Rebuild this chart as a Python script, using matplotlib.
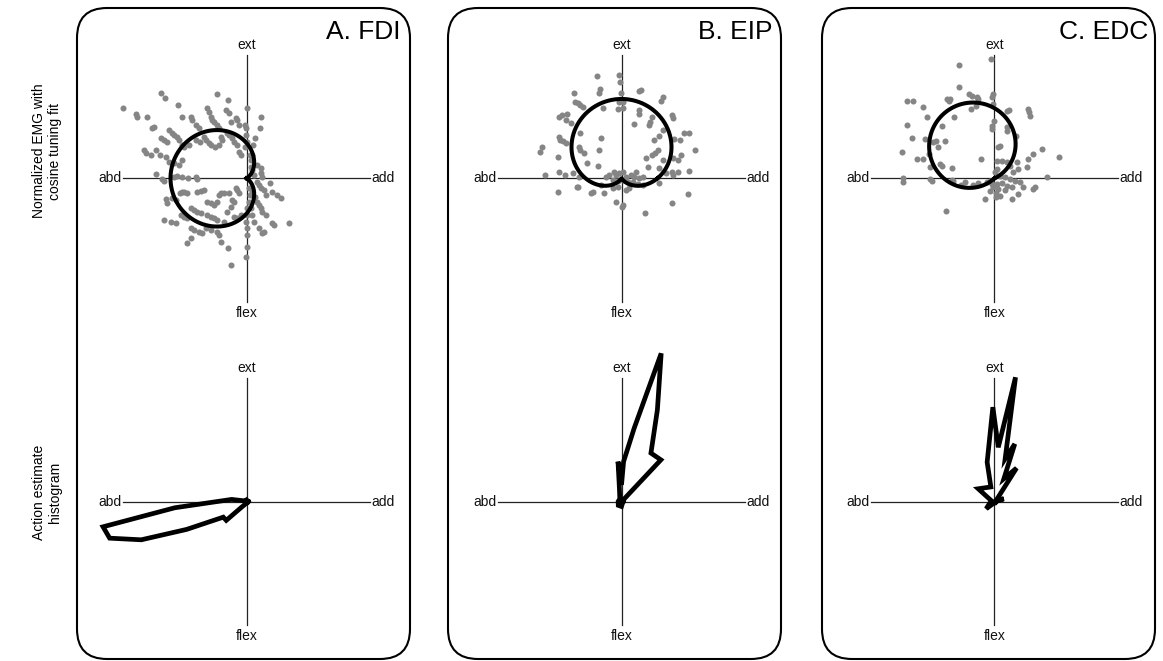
import numpy as np
import matplotlib.pyplot as plt
from matplotlib.patches import FancyBboxPatch

plt.rcParams['font.family'] = ['Liberation Sans', 'DejaVu Sans']

# normalized EMG per trial; x: add(+)/abd(-), y: ext(+)/flex(-)
fdi_x = [-2.58, -2.46, -3.71, -3.33, -3.28, -3.00, -2.05, -1.93, -0.90, -0.56, -1.18, -1.13, -1.08,
         -1.03, -0.98, -0.90, -0.83, -1.68, -1.63, -1.53, -1.43, -2.78, -2.83, -2.33, -2.23, -2.18,
         -2.08, -2.03, -1.93, -1.88, -1.73, -2.58, -2.48, -2.38, -3.08, -3.03, -2.88, -2.73, -2.60,
         -2.43, -2.33, -2.18, -2.03, -1.93, -0.63, -0.53, -0.33, -0.28, -0.23, -0.46, -0.58, -0.53,
         -0.43, -0.38, -0.28, -0.23, -0.18, 0.00, -0.04, -0.03, -0.03, 0.02, -0.06, 0.43, 0.40, 0.25,
         0.20, 0.17, -1.28, -1.23, -1.13, -1.08, -1.53, -1.40, -0.78, -0.73, -0.83, -0.96,
         -2.73, -2.53, -2.48, -2.18, -2.08, -1.93, -1.76, -1.53, -1.48,
         -2.43, -2.23, -2.13, -2.38, -2.00, -1.93, -1.88, -1.78, -1.48, -1.38, -1.28, -1.68, -1.58,
         -1.48, -1.38, -2.48, -2.28, -2.13, -1.98, -1.88, -1.78, -1.18, -1.08, -0.98, -0.88, -0.83,
         -0.78, -0.68, -0.53, -0.43, -0.38, -0.33, -0.28, -0.23, -1.18, -1.08, -0.98, -0.88, -0.68,
         -0.58, -0.48, -0.38, -0.28, -0.18, -1.68, -1.58, -1.43, -1.33, -1.68, -1.78, -1.23, -1.08,
         -0.88, -0.83, -0.78, -0.56, -0.48, 0.00, -0.03, 0.02, 0.02, -0.03, 0.00, 0.02,
         0.10, 0.12, 0.12, 0.17, 0.22, 0.32, 0.42, 0.42, 0.47, 0.32, 0.37, 0.42, 0.52, 0.57, 0.70,
         0.77, 0.92, 1.04, 1.27, 0.32, 0.37, 0.42, 0.47, 0.57, 0.77, 0.82, 0.52, 0.47, 0.37, 0.22,
         0.17, 0.12, 0.07, 0.10, 0.07, 0.17, 0.25]
fdi_y = [2.55, 2.42, 2.10, 1.92, 1.85, 1.85, 2.20, 1.85, 2.52, 2.35, 2.10, 2.00, 1.85,
         1.75, 1.70, 1.60, 1.50, 1.85, 1.75, 1.60, 1.50, 1.55, 1.50, 1.45, 1.35, 1.30,
         1.25, 1.15, 1.00, 0.95, 1.00, 1.20, 1.15, 1.10, 0.85, 0.75, 0.70, 0.85, 0.70,
         0.65, 0.50, 0.45, 0.40, 0.55, 2.05, 1.95, 1.80, 1.75, 1.60, 1.68, 1.35, 1.30,
         1.20, 1.10, 1.00, 0.80, 0.70, 2.10, 1.60, 1.50, 1.30, 1.10, 0.95, 1.85, 1.50, 1.20,
         1.00, 0.70, 1.25, 1.15, 1.05, 1.00, 1.15, 1.10, 1.25, 1.15, 1.00, 0.95,
         0.12, -0.02, -0.08, 0.05, 0.08, 0.05, 0.00, 0.05, -0.02,
         -0.62, -0.60, -0.65, -0.75, -0.45, -0.40, -0.42, -0.45, -0.40, -0.37, -0.35, -0.90, -0.95,
         -1.00, -1.05, -1.25, -1.30, -1.35, -1.10, -1.15, -1.20, -0.70, -0.75, -0.80, -0.70, -0.50,
         -0.45, -0.45, -0.45, -0.65, -0.70, -0.30, -0.35, -0.45, -1.10, -1.15, -1.20, -1.25, -1.30,
         -1.00, -0.85, -1.15, -1.20, -1.10, -1.50, -1.55, -1.60, -1.65, -1.80, -1.95, -1.50, -1.55,
         -1.60, -1.70, -1.90, -2.10, -2.60, -2.05, -2.35, -1.50, -1.70, -1.30, -1.10, -0.90,
         0.70, 0.55, 0.35, 0.25, 0.10, 0.40, 0.30, 0.15, 0.05, -0.10, -0.20, -0.30, -0.35, -0.50, -0.15,
         -0.40, -0.50, -0.58, -1.35, -0.70, -0.80, -0.90, -1.00, -1.10, -1.35, -1.40, -1.60, -1.65, -1.50, -1.30,
         -1.10, -0.90, -0.70, -0.50, -0.30, -0.40, -0.55]

eip_x = [-0.74, -0.07, -0.04, -0.65, -0.67, -1.44, -0.02, 0.58, 0.53, 1.25, 1.18, -1.39, -1.32,
         -1.25, -1.17, -0.55, -0.09, 0.03, -0.12, 0.03, 0.51, 0.51, -1.87, -1.79, -1.65, -1.67,
         -1.52, 1.53, 1.50, 0.38, 0.91, 0.86, 0.81, -1.25, -0.62, -1.87, -1.84, -1.77, -1.67,
         1.23, 1.13, 0.96, 1.58, 1.75, 1.88, 2.03, 2.21, -2.40, -2.44, -1.90, -1.29, -1.24,
         -1.12, -0.69, -1.04, -0.72, 1.08, 1.01, 0.91, 0.73, 1.23, 1.53, 1.78, 1.68, 0.78, 1.13,
         0.43, -1.89, -2.30, -1.69, -1.47, -1.27, 2.01, 1.68, 1.50, 1.53, 1.33,
         -0.47, -0.37, -0.22, -0.17, -0.07, 0.05, 0.13, 0.28, 0.38, 0.53, 0.63, -0.27, -0.12, 0.03,
         0.18, 0.33, 0.48, 0.63, -0.25, -0.12, 0.13, 0.23, 1.11,
         -1.90, -1.35, -1.30, -0.92, -0.87, -0.54, -0.17, 0.00, 0.03, 0.70, 1.50, 1.98, -0.62]
eip_y = [3.07, 3.10, 2.90, 2.67, 2.55, 2.57, 2.55, 2.65, 2.63, 2.45, 2.32, 2.30, 2.25,
         2.20, 2.15, 2.10, 2.30, 2.30, 2.07, 2.10, 2.05, 1.93, 1.85, 1.90, 1.93, 1.75,
         1.65, 1.80, 1.90, 1.63, 1.83, 1.70, 1.60, 1.37, 1.20, 1.25, 1.15, 1.13, 1.05,
         1.45, 1.27, 1.15, 1.18, 1.15, 1.37, 1.37, 0.85, 0.93, 0.78, 0.65, 0.95, 0.85,
         0.77, 0.85, 0.45, 0.37, 0.85, 0.77, 0.70, 0.60, 0.55, 0.60, 0.70, 0.55, 0.35, 0.30,
         0.20, 0.20, 0.10, 0.10, 0.15, 0.03, 0.23, 0.20, 0.20, 0.10, 0.15,
         0.05, 0.10, 0.20, 0.10, 0.15, 0.20, 0.05, 0.10, 0.05, 0.00, 0.05, -0.05, -0.07, -0.05,
         -0.10, -0.10, -0.17, -0.20, -0.30, -0.25, -0.35, -0.30, -0.13,
         -0.40, -0.27, -0.25, -0.45, -0.40, -0.43, -0.70, -0.85, -0.80, -1.05, -0.73, -0.48, -0.20]

edc_x = [-0.10, -1.06, -1.06, -2.61, -2.43, -2.15, -2.03, -1.41, -1.37, -1.33, -0.77, -0.68, -0.51,
         -0.48, -0.08, -0.05, -0.03, -0.71, -0.55, -1.20, -1.58, -2.63, -2.48, -2.78, -2.33, -2.13,
         -2.08, -1.83, -1.75, -1.68, -1.48, -1.95, -1.93, -1.63, -1.58, -1.28, -0.41, -2.75, -2.73,
         -1.93, -1.88, -1.28, -1.23, -1.00, -0.88, -0.65, -0.48, -1.45, -0.01, -0.08, -0.08, 0.39,
         0.45, 1.00, 1.03, 1.07, 0.37, 0.37, 0.65, 0.17, 0.12, 1.42, 1.17, 1.95, 1.02, 0.07, 0.22,
         0.37, 0.47, 0.69, 0.97, 1.59, 0.72, 0.57, 0.07, 0.02, 0.17, 0.32, 0.47, 0.62, 0.77, -0.13,
         -0.23, -0.08, 0.07, 0.22, 0.37, 0.52, -0.03, 0.12, 0.32, -0.13, 0.05, 0.17, 0.05, -0.28,
         0.52, 0.70, 1.17, 1.22, 0.87]
edc_y = [3.58, 3.41, 2.75, 2.33, 2.31, 2.13, 1.83, 2.38, 2.33, 2.38, 2.53, 2.48, 2.43,
         2.38, 2.43, 2.53, 2.23, 2.08, 2.18, 1.83, 1.58, 1.61, 1.21, 0.80, 0.58, 0.58,
         1.18, 1.08, 1.11, 0.93, 1.13, 0.73, 0.33, 0.43, 0.38, 0.31, 0.58, 0.01, -0.12,
         -0.02, -0.07, -0.05, -0.09, -0.19, -0.12, -0.19, -0.15, -0.97, 1.73, 1.58, 1.48, 2.03,
         2.05, 2.08, 1.98, 1.88, 1.53, 1.43, 1.28, 0.98, 0.93, 0.88, 0.73, 0.65, 0.58, 0.53, 0.53,
         0.48, 0.38, 0.48, 0.33, 0.05, 0.28, 0.18, 0.28, 0.18, 0.08, 0.03, -0.02, -0.07, -0.12, -0.07,
         -0.12, -0.17, -0.17, -0.15, -0.22, -0.27, -0.27, -0.32, -0.35, -0.37, -0.45, -0.52, -0.57, -0.62,
         -0.62, -0.47, -0.32, -0.27, -0.27]

# cosine tuning fits: r = max(0, base + gain * cos(theta - pref))
fit_base = [1.06, 1.08, 0.32]
fit_gain = [1.22, 1.30, 2.15]
fit_pref = [180, 90, 124]

# action estimate histograms: direction (deg) and length
fdi_hist_deg = [0, 90, 160, 172, 185, 190, 195, 200, 205, 214, 223, 229, 270, 330]
fdi_hist_len = [0.05, 0.05, 0.05, 0.45, 2.16, 4.37, 4.25, 3.36, 1.98, 0.84, 0.83, 0.23, 0.05, 0.05]
eip_hist_deg = [0, 40, 46.6, 58.7, 68.6, 75.0, 80.2, 87, 90, 95, 99, 120, 180, 230, 270, 320]
eip_hist_len = [0.05, 0.05, 1.72, 1.70, 2.95, 4.60, 2.23, 1.20, 0.50, 1.20, 0.40, 0.10, 0.10, 0.15, 0.15, 0.05]
edc_hist_deg = [0, 16, 40, 56.6, 67.6, 70.6, 76, 80.4, 86, 91, 100.6, 104, 142, 165, 221, 250, 300]
edc_hist_len = [0.05, 0.29, 0.08, 1.20, 0.74, 1.83, 1.32, 3.78, 1.63, 2.83, 1.20, 0.45, 0.62, 0.10, 0.33, 0.05, 0.05]

titles = ['A. FDI', 'B. EIP', 'C. EDC']
emg = [(fdi_x, fdi_y), (eip_x, eip_y), (edc_x, edc_y)]
hists = [(fdi_hist_deg, fdi_hist_len), (eip_hist_deg, eip_hist_len), (edc_hist_deg, edc_hist_len)]

W, H = 1163, 661
fig = plt.figure(figsize=(W / 100, H / 100), dpi=100)
ppu = 100 / 3      # pixels per data unit
half = 5.0
arm = 3.7

box_left = [77, 448, 822]
box_w = 333
centre_x = [246.5, 621.5, 994.5]
row_y = [178.3, 501.5]
title_right = [401, 773, 1148]


def cross_axes(cx, cy):
    s = half * ppu
    ax = fig.add_axes([(cx - s) / W, (H - cy - s) / H, 2 * s / W, 2 * s / H])
    ax.set_xlim(-half, half)
    ax.set_ylim(-half, half)
    ax.axis('off')
    ax.plot([-arm, arm], [0, 0], color='#222222', lw=0.9, zorder=1)
    ax.plot([0, 0], [-arm, arm], color='#222222', lw=0.9, zorder=1)
    kw = dict(fontsize=10, color='#111111')
    ax.text(0, arm + 0.1, 'ext', ha='center', va='bottom', **kw)
    ax.text(0, -arm - 0.12, 'flex', ha='center', va='top', **kw)
    ax.text(-arm - 0.05, 0, 'abd', ha='right', va='center', **kw)
    ax.text(arm + 0.05, 0, 'add', ha='left', va='center', **kw)
    return ax


theta = np.linspace(0, 2 * np.pi, 721)
for i in range(3):
    box = FancyBboxPatch((box_left[i] / 100, 2 / 100), box_w / 100, 651 / 100,
                         boxstyle='round,pad=0,rounding_size=0.3',
                         transform=fig.dpi_scale_trans, fill=False,
                         ec='black', lw=1.5)
    fig.add_artist(box)
    fig.text(title_right[i] / W, 1 - 32 / H, titles[i], ha='right', va='center', fontsize=19)

    # top: EMG scatter with cosine fit
    ax = cross_axes(centre_x[i], row_y[0])
    ax.scatter(emg[i][0], emg[i][1], s=19, color='#858585', lw=0, zorder=2)
    r = np.maximum(0, fit_base[i] + fit_gain[i] * np.cos(theta - np.deg2rad(fit_pref[i])))
    ax.plot(r * np.cos(theta), r * np.sin(theta), color='black', lw=2.9, zorder=3)

    # bottom: action estimate histogram
    ax = cross_axes(centre_x[i], row_y[1])
    a = np.deg2rad(hists[i][0])
    L = np.array(hists[i][1])
    hx = np.append(L * np.cos(a), L[0] * np.cos(a[0]))
    hy = np.append(L * np.sin(a), L[0] * np.sin(a[0]))
    ax.plot(hx, hy, color='black', lw=3.4, solid_joinstyle='miter', zorder=3)

fig.text(47 / W, 1 - 151 / H, 'Normalized EMG with\ncosine tuning fit', rotation=90,
         ha='center', va='center', multialignment='center', fontsize=10)
fig.text(47 / W, 1 - 492 / H, 'Action estimate\nhistogram', rotation=90,
         ha='center', va='center', multialignment='center', fontsize=10)

fig.savefig('out.png', dpi=100)
